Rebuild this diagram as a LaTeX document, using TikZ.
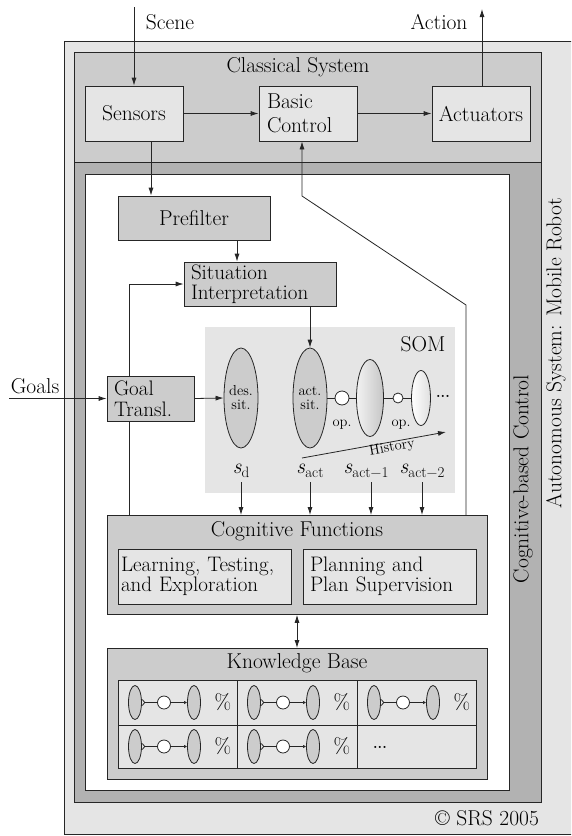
\documentclass[tikz,border=0pt]{standalone}
\usetikzlibrary{arrows.meta,shapes.geometric,calc}
\newcommand\fsmain{\fontsize{21.5}{24}\selectfont}
\newcommand\fstight{\fontsize{21}{20.5}\selectfont}
\newcommand\fssmall{\fontsize{14.5}{14}\selectfont}
\newcommand\fssub{\fontsize{15}{15}\selectfont}
\newcommand\svar[1]{\textit{s}\raisebox{-4pt}{\fssub #1}}
\begin{document}
\begin{tikzpicture}[x=1pt,y=-1pt,
  every node/.style={font=\fsmain},
  ln/.style={line width=0.8pt,draw=black!85},
  arr/.style={ln,-{Latex[length=8pt,width=5pt]}},
  box/.style={draw=black!85,line width=0.8pt,rectangle,inner sep=0pt},
  lbox/.style={box,fill=gray!20},
  mbox/.style={box,fill=gray!40},
  sell/.style={ellipse,draw=black!85,line width=0.8pt,inner sep=0pt,font=\fssmall,align=center},
  scirc/.style={circle,draw=black!85,line width=0.8pt,fill=white,inner sep=0pt},
  kell/.style={ellipse,draw=black!85,line width=0.8pt,fill=gray!40,inner sep=0pt,minimum width=13pt,minimum height=34pt},
  kcirc/.style={scirc,minimum size=13pt},
  vlab/.style={rotate=90},
  slab/.style={inner sep=0.5pt}
]
\useasboundingbox (0,0) rectangle (571,836);
\clip (0,0) rectangle (571,836);

% containers
\node[box,fill=gray!20,minimum width=520pt,minimum height=793pt,anchor=north west] (outer) at (64,41) {};
\node[box,fill=gray!40,minimum width=467pt,minimum height=110pt,anchor=north west] (classical) at (74,52) {};
\node[box,fill=gray!60,minimum width=467pt,minimum height=640pt,anchor=north west] (cognitive) at (74,162) {};
\node[box,fill=white,minimum width=424pt,minimum height=616pt,anchor=north west] (inner) at (85,174) {};
\node[rectangle,fill=gray!20,inner sep=0pt,minimum width=250pt,minimum height=166pt,anchor=north west] (som) at (205,327) {};

% labels of containers
\node (classlab) at (298,67) {Classical System};
\node[vlab] (autolab) at (556,353) {Autonomous System: Mobile Robot};
\node[vlab] (coglab) at (523,479) {Cognitive-based Control};
\node (copy) at (487,818) {\copyright\ SRS 2005};
\node (somlab) at (423,344) {SOM};

% classical system
\node[lbox,minimum width=98pt,minimum height=55pt] (sensors) at (134,113.5) {Sensors};
\node[lbox,minimum width=98pt,minimum height=55pt,text width=82pt,align=left] (basic) at (308,113.5) {Basic\\Control};
\node[lbox,minimum width=98pt,minimum height=55pt] (actuators) at (481,113.5) {Actuators};

\coordinate (scenein) at (134,7);
\coordinate (actout) at (482,9);
\node (scenelab) at (170,22) {Scene};
\node (actionlab) at (439,22) {Action};
\draw[arr] (scenein) -- (sensors.north);
\draw[arr] (actuators.north -| actout) -- (actout);
\draw[arr] (sensors.east) -- (basic.west);
\draw[arr] (basic.east) -- (actuators.west);

% cognitive part
\node[mbox,minimum width=152pt,minimum height=44pt] (prefilter) at (194,218) {Prefilter};
\node[mbox,minimum width=152pt,minimum height=44pt,text width=138pt,align=left,font=\fstight] (situation) at (260,284) {Situation\\Interpretation};
\node[mbox,minimum width=87pt,minimum height=45pt,text width=73pt,align=left,font=\fstight] (goal) at (150.5,398.5) {Goal\\Transl.};

\coordinate (sp) at (151,0);
\coordinate (ps) at (237,0);
\draw[arr] (sensors.south -| sp) -- (prefilter.north -| sp);
\draw[arr] (prefilter.south -| ps) -- (situation.north -| ps);

\coordinate (goalsin) at (9,398.5);
\node (goalslab) at (35,386) {Goals};
\draw[arr] (goalsin) -- (goal.west);

\coordinate (gx) at (129,0);
\draw[arr] (goal.north -| gx) |- (situation.west);

% SOM contents
\node[sell,fill=gray!40,minimum width=34pt,minimum height=100pt] (des) at (241,398) {des.\\sit.};
\node[sell,fill=gray!40,minimum width=34pt,minimum height=100pt] (act) at (310,398) {act.\\sit.};
\node[scirc,minimum size=14pt] (c1) at (342,398) {};
\node[sell,left color=gray!10,right color=gray!45,minimum width=27pt,minimum height=77pt] (e3) at (370,398) {};
\node[scirc,minimum size=10pt] (c2) at (398,398) {};
\node[sell,left color=white,right color=gray!25,minimum width=19pt,minimum height=55pt] (e4) at (421,398) {};
\node[font=\fssmall\bfseries] (dots) at (443,396) {...};
\node[font=\fssmall,slab] (op1) at (342,425) {op.};
\node[font=\fssmall,slab] (op2) at (401,425) {op.};
\draw[ln] (act.east) -- (c1.west);
\draw[ln] (c1.east) -- (e3.west);
\draw[ln] (e3.east) -- (c2.west);
\draw[ln] (c2.east) -- (e4.west);
\draw[arr] (goal.east) -- (des.west);
\draw[arr] (situation.south -| act) -- (act.north);

\coordinate (h1) at (302,458);
\coordinate (h2) at (446,432);
\draw[arr] (h1) -- (h2);
\node[font=\fssmall,rotate=10.2,inner sep=0pt] (histlab) at (392,448) {History};

\node[slab] (sd) at (241,471) {\svar{d}};
\node[slab] (sa) at (310,471) {\svar{act}};
\node[slab] (sa1) at (366,471) {\svar{act−1}};
\node[slab] (sa2) at (422,471) {\svar{act−2}};

% cognitive functions
\node[mbox,minimum width=380pt,minimum height=99pt,anchor=north west] (cf) at (107,515) {};
\node (cflab) at (297,531) {Cognitive Functions};
\node[lbox,minimum width=173pt,minimum height=55pt,text width=167pt,align=left,font=\fstight] (learn) at (204.5,576.5) {Learning, Testing,\\and Exploration};
\node[lbox,minimum width=173pt,minimum height=55pt,text width=159pt,align=left,font=\fstight] (plan) at (389.5,576.5) {Planning and\\Plan Supervision};

\coordinate (a1) at (241,482);
\coordinate (a2) at (310,482);
\coordinate (a3) at (371,482);
\coordinate (a4) at (422,482);
\foreach \a in {a1,a2,a3,a4} { \draw[arr] (\a) -- (cf.north -| \a); }

\draw[ln] (goal.south -| gx) -- (cf.north -| gx);
\coordinate (fb1) at (466,305);
\coordinate (fb2) at (302,196);
\draw[arr] (cf.north -| fb1) -- (fb1) -- (fb2) -- (basic.south -| fb2);

% knowledge base
\node[mbox,minimum width=380pt,minimum height=131pt,anchor=north west] (kb) at (107,648) {};
\node (kblab) at (297,663) {Knowledge Base};
\coordinate (dx) at (297,0);
\draw[ln,{Latex[length=8pt,width=5pt]}-{Latex[length=8pt,width=5pt]}] (cf.south -| dx) -- (kb.north -| dx);

\node[lbox,minimum width=358pt,minimum height=88pt,anchor=north west] (table) at (118,680) {};
\draw[ln] ($(table.north west)+(119,0)$) -- ($(table.south west)+(119,0)$);
\draw[ln] ($(table.north west)+(239,0)$) -- ($(table.south west)+(239,0)$);
\draw[ln] ($(table.west)+(0,1)$) -- ($(table.east)+(0,1)$);

\foreach \cx/\cy/\k in {118/702.5/1, 237/702.5/2, 357/702.5/3, 118/746.5/4, 237/746.5/5} {
  \node[kell] (ka\k) at (\cx+17,\cy) {};
  \node[kcirc] (kc\k) at (\cx+46,\cy) {};
  \node[kell] (kb\k) at (\cx+76,\cy) {};
  \node (kp\k) at (\cx+105,\cy) {\%};
  \draw[ln,{Straight Barb[reversed,length=2.5pt,width=6pt]}-] (ka\k.east) -- (kc\k.west);
  \draw[ln,-{Latex[length=3pt,width=3.5pt]}] (kc\k.east) -- (kb\k.west);
}
\node[font=\fssmall\bfseries] (kdots) at (380,747) {...};
\end{tikzpicture}
\end{document}
